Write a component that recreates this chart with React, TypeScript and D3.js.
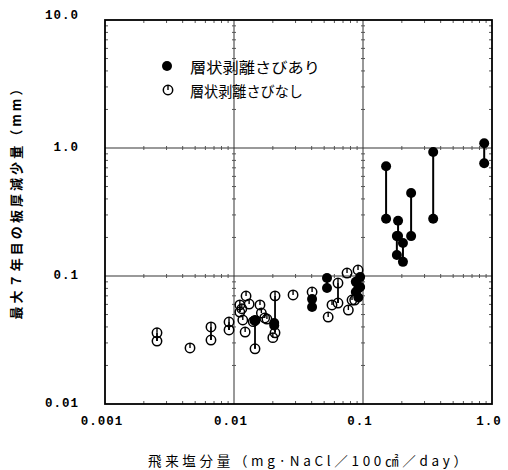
import React from "react";
import * as d3 from "d3";

// Filled markers (層状剥離さびあり): x, upper y, lower y
const filledX = [0.151, 0.187, 0.183, 0.204, 0.236, 0.35, 0.87, 0.0526, 0.0403, 0.088, 0.095, 0.092, 0.0145, 0.0205];
const filledHi = [0.72, 0.27, 0.205, 0.181, 0.445, 0.93, 1.09, 0.0965, 0.066, 0.09, 0.098, 0.08, 0.045, 0.043];
const filledLo = [0.28, 0.205, 0.146, 0.129, 0.205, 0.28, 0.76, 0.0806, 0.0573, 0.075, 0.082, 0.068, 0.045, 0.041];

// Open markers (層状剥離さびなし): x, upper y, lower y
const openX = [0.00253, 0.00456, 0.00663, 0.00915, 0.0111, 0.0124, 0.0131, 0.0117, 0.0122, 0.01455, 0.0159, 0.0163, 0.018, 0.0208, 0.02, 0.0287, 0.0403, 0.0537, 0.0575, 0.064, 0.0752, 0.077, 0.0822, 0.0862, 0.0915, 0.0115, 0.0173, 0.0141];
const openHi = [0.036, 0.0274, 0.04, 0.0437, 0.0594, 0.0698, 0.0604, 0.0453, 0.0365, 0.045, 0.0594, 0.0514, 0.0461, 0.07, 0.033, 0.0711, 0.075, 0.0478, 0.0594, 0.0881, 0.1055, 0.0542, 0.0649, 0.0649, 0.1114, 0.0555, 0.047, 0.044];
const openLo = [0.031, 0.0274, 0.0316, 0.0379, 0.0523, 0.0698, 0.0604, 0.0453, 0.0365, 0.027, 0.0594, 0.0514, 0.0461, 0.036, 0.033, 0.0711, 0.075, 0.0478, 0.0594, 0.0615, 0.1055, 0.0542, 0.0649, 0.0649, 0.1114, 0.0555, 0.047, 0.044];

const xTickValues = [0.001, 0.01, 0.1, 1];
const xTickLabels = ["0.001", "0.01", "0.1", "1.0"];
const yTickValues = [0.01, 0.1, 1, 10];
const yTickLabels = ["0.01", "0.1", "1.0", "10.0"];
const xGrid = [0.01, 0.1];
const yGrid = [0.1, 1];

const legendLabels = ["層状剥離さびあり", "層状剥離さびなし"];
const xTitle = "飛来塩分量（mg·NaCl／100㎠／day）";
const yTitle = "最大７年目の板厚減少量（mm）";

export default function App() {
  const W = 508, H = 470;
  const x = d3.scaleLog().domain([0.001, 1]).range([105, 492]);
  const y = d3.scaleLog().domain([0.01, 10]).range([404, 20]);
  const [x0, x1] = x.range();
  const [y0, y1] = y.range();

  const minorX: number[] = [];
  for (let k = -3; k < 0; k++) for (let m = 2; m <= 9; m++) minorX.push(m * Math.pow(10, k));
  const minorY: number[] = [];
  for (let k = -2; k < 1; k++) for (let m = 2; m <= 9; m++) minorY.push(m * Math.pow(10, k));

  const numFont = "'Liberation Mono', 'DejaVu Sans Mono', monospace";
  const jpFont = "'Noto Sans CJK JP', 'Noto Sans', sans-serif";
  const R = 4.7;

  const openMarker = (cx: number, cy: number, key: string) => (
    <g key={key}>
      <circle cx={cx} cy={cy} r={R} fill="none" stroke="#000" strokeWidth={1.5} />
      <line x1={cx} x2={cx} y1={cy - R} y2={cy} stroke="#000" strokeWidth={1.4} />
    </g>
  );

  const vertLines = [y0, y1, ...yGrid.map((v) => y(v))];
  const horizLines = [x0, x1, ...xGrid.map((v) => x(v))];

  return (
    <svg width={W} height={H} style={{ position: "absolute", left: 0, top: 0, background: "#fff" }}>
      <rect x={0} y={0} width={W} height={H} fill="#fff" />
      {/* grid */}
      {yGrid.map((v) => (
        <line key={"gy" + v} x1={x0} x2={x1} y1={y(v)} y2={y(v)} stroke="#777" strokeWidth={1.6} />
      ))}
      {xGrid.map((v) => (
        <line key={"gx" + v} x1={x(v)} x2={x(v)} y1={y1} y2={y0} stroke="#333" strokeWidth={1} />
      ))}
      {/* minor ticks along horizontal lines */}
      {vertLines.map((yy, i) =>
        minorX.map((v) => (
          <line key={"mx" + i + "-" + v} x1={x(v)} x2={x(v)} y1={yy - (i === 0 ? 3 : i === 1 ? 0 : 2)} y2={yy + (i === 1 ? 3 : i === 0 ? 0 : 2)} stroke="#555" strokeWidth={1} />
        ))
      )}
      {/* minor ticks along vertical lines */}
      {horizLines.map((xx, i) =>
        minorY.map((v) => (
          <line key={"my" + i + "-" + v} x1={xx - (i === 1 ? 3 : i === 0 ? 0 : 2)} x2={xx + (i === 0 ? 3 : i === 1 ? 0 : 2)} y1={y(v)} y2={y(v)} stroke="#555" strokeWidth={1} />
        ))
      )}
      {/* frame */}
      <rect x={x0} y={y1} width={x1 - x0} height={y0 - y1} fill="none" stroke="#000" strokeWidth={1.8} />

      {/* tick labels */}
      {xTickValues.map((v, i) => (
        <text key={"xt" + v} x={x(v) - 3} y={422} textAnchor="middle" dominantBaseline="central" fontFamily={numFont} fontWeight="bold" fontSize={12.5} letterSpacing={1}>
          {xTickLabels[i]}
        </text>
      ))}
      {yTickValues.map((v, i) => (
        <text key={"yt" + v} x={79} y={i === 3 ? 16 : y(v)} textAnchor="end" dominantBaseline="central" fontFamily={numFont} fontWeight="bold" fontSize={12.5} letterSpacing={1}>
          {yTickLabels[i]}
        </text>
      ))}

      {/* axis titles */}
      <text x={148} y={460} dominantBaseline="central" fontFamily={jpFont} fontSize={13.5} textLength={319} lengthAdjust="spacing">
        {xTitle}
      </text>
      <text transform="translate(15,201) rotate(-90)" textAnchor="middle" dominantBaseline="central" fontFamily={jpFont} fontWeight="bold" fontSize={13} textLength={237} lengthAdjust="spacing" fill="#000">
        {yTitle}
      </text>

      {/* legend */}
      <circle cx={167} cy={66} r={5} fill="#000" />
      <text x={190} y={66} dominantBaseline="central" fontFamily={jpFont} fontSize={15} textLength={130} lengthAdjust="spacingAndGlyphs">
        {legendLabels[0]}
      </text>
      {openMarker(168, 90, "legOpen")}
      <text x={190} y={90} dominantBaseline="central" fontFamily={jpFont} fontSize={15} textLength={113} lengthAdjust="spacingAndGlyphs">
        {legendLabels[1]}
      </text>

      {/* open series */}
      {openX.map((v, i) =>
        openHi[i] !== openLo[i] ? (
          <line key={"ol" + i} x1={x(v)} x2={x(v)} y1={y(openHi[i])} y2={y(openLo[i])} stroke="#000" strokeWidth={1.8} />
        ) : null
      )}
      {openX.map((v, i) => (
        <g key={"og" + i}>
          {openMarker(x(v), y(openHi[i]), "oh" + i)}
          {openHi[i] !== openLo[i] ? openMarker(x(v), y(openLo[i]), "olo" + i) : null}
        </g>
      ))}

      {/* filled series */}
      {filledX.map((v, i) =>
        filledHi[i] !== filledLo[i] ? (
          <line key={"fl" + i} x1={x(v)} x2={x(v)} y1={y(filledHi[i])} y2={y(filledLo[i])} stroke="#000" strokeWidth={2} />
        ) : null
      )}
      {filledX.map((v, i) => (
        <g key={"fg" + i}>
          <circle cx={x(v)} cy={y(filledHi[i])} r={5} fill="#000" />
          {filledHi[i] !== filledLo[i] ? <circle cx={x(v)} cy={y(filledLo[i])} r={5} fill="#000" /> : null}
        </g>
      ))}
    </svg>
  );
}
